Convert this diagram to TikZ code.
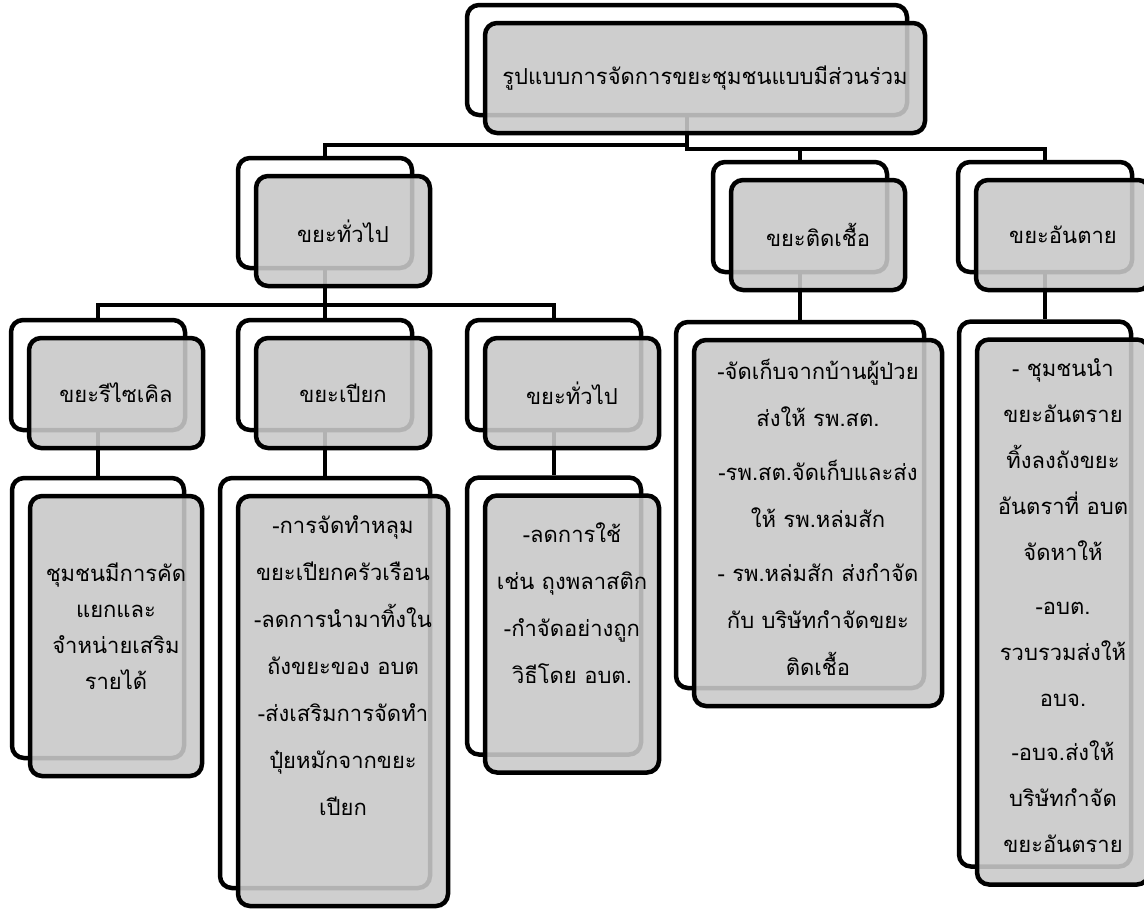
\documentclass[tikz,border=0pt]{standalone}
\usepackage{fontspec}
\newfontfamily\thaifont[Script=Thai]{Loma}
\usetikzlibrary{positioning}

\begin{document}
\begin{tikzpicture}[x=1pt,y=-1pt]
\tikzstyle{every node}+=[inner sep=0pt, font=\thaifont\fontsize{22}{26}\selectfont]
\tikzstyle{backbox}=[draw=black, line width=4.5pt, rounded corners=12pt, fill=white]
\tikzstyle{frontbox}=[draw=black, line width=4.5pt, rounded corners=12pt, fill=black!21, fill opacity=0.89, text opacity=1]
\tikzstyle{smallbox}=[minimum width=174pt, minimum height=110pt]
\tikzstyle{link}=[black, line width=4.5pt]
\tikzstyle{leaftext}=[anchor=north, align=center, font=\thaifont\fontsize{22}{47}\selectfont]
\useasboundingbox (0,0) rectangle (1144,910);
\node[backbox, minimum width=440pt, minimum height=110pt] (titleB) at (687,60) {};
\node[backbox, smallbox] (genB) at (325,213) {};
\node[backbox, smallbox] (infB) at (800,217) {};
\node[backbox, smallbox] (hazB) at (1045,217) {};
\node[backbox, smallbox] (recB) at (98,375) {};
\node[backbox, smallbox] (wetB) at (325,375) {};
\node[backbox, smallbox] (othB) at (554,375) {};
\node[backbox, minimum width=172pt, minimum height=280pt] (recLB) at (98,618) {};
\node[backbox, minimum width=210pt, minimum height=410pt] (wetLB) at (325,683) {};
\node[backbox, minimum width=174pt, minimum height=277pt] (othLB) at (554,616) {};
\node[backbox, minimum width=248pt, minimum height=366pt] (infLB) at (800,505) {};
\node[backbox, minimum width=172pt, minimum height=545pt] (hazLB) at (1045,594) {};
\coordinate (j0) at (687,145);
\coordinate (j1) at (687,149);
\coordinate (j2) at (325,305);
\draw[link] (titleB.south) -- (j0) -| (genB.north);
\draw[link] (titleB.south) -- (j1) -| (infB.north);
\draw[link] (j1) -| (hazB.north);
\draw[link] (genB.south) -- (j2) -| (recB.north);
\draw[link] (j2) -| (othB.north);
\draw[link] (genB.south) -- (wetB.north);
\draw[link] (recB.south) -- (recLB.north);
\draw[link] (wetB.south) -- (wetLB.north);
\draw[link] (othB.south) -- (othLB.north);
\draw[link] (infB.south) -- (infLB.north);
\draw[link] (hazB.south) -- (hazLB.north);
\node[frontbox, minimum width=440pt, minimum height=110pt] (title) at ([shift={(18,18)}]titleB.center) {รูปแบบการจัดการขยะชุมชนแบบมีส่วนร่วม};
\node[frontbox, smallbox] (gen) at ([shift={(18,18)}]genB.center) {ขยะทั่วไป};
\node[frontbox, smallbox] (inf) at ([shift={(18,18)}]infB.center) {ขยะติดเชื้อ};
\node[frontbox, smallbox] (haz) at ([shift={(18,18)}]hazB.center) {ขยะอันตาย};
\node[frontbox, smallbox] (rec) at ([shift={(18,18)}]recB.center) {ขยะรีไซเคิล};
\node[frontbox, smallbox] (wet) at ([shift={(18,18)}]wetB.center) {ขยะเปียก};
\node[frontbox, smallbox] (oth) at ([shift={(18,18)}]othB.center) {ขยะทั่วไป};
\node[frontbox, minimum width=172pt, minimum height=280pt] (recL) at ([shift={(18,18)}]recLB.center) {};
\node[frontbox, minimum width=210pt, minimum height=410pt] (wetL) at ([shift={(18,18)}]wetLB.center) {};
\node[frontbox, minimum width=174pt, minimum height=277pt] (othL) at ([shift={(18,18)}]othLB.center) {};
\node[frontbox, minimum width=248pt, minimum height=366pt] (infL) at ([shift={(18,18)}]infLB.center) {};
\node[frontbox, minimum width=172pt, minimum height=545pt] (hazL) at ([shift={(18,18)}]hazLB.center) {};
\node[leaftext, font=\thaifont\fontsize{22}{36}\selectfont, below=69pt of recL.north] (recT) {ชุมชนมีการคัด\\แยกและ\\จำหน่ายเสริม\\รายได้};
\node[leaftext, below=22pt of wetL.north] (wetT) {-การจัดทำหลุม\\ขยะเปียกครัวเรือน\\-ลดการนำมาทิ้งใน\\ถังขยะของ อบต\\-ส่งเสริมการจัดทำ\\ปุ๋ยหมักจากขยะ\\เปียก};
\node[leaftext, below=29pt of othL.north] (othT) {-ลดการใช้\\เช่น ถุงพลาสติก\\-กำจัดอย่างถูก\\วิธีโดย อบต.};
\node[leaftext, below=21pt of infL.north] (infT) {-จัดเก็บจากบ้านผู้ป่วย\\ส่งให้ รพ.สต.\\[7pt]-รพ.สต.จัดเก็บและส่ง\\ให้ รพ.หล่มสัก\\[7pt]- รพ.หล่มสัก ส่งกำจัด\\กับ บริษัทกำจัดขยะ\\ติดเชื้อ};
\node[leaftext, font=\thaifont\fontsize{22}{46}\selectfont, below=21pt of hazL.north] (hazT) {- ชุมชนนำ\\ขยะอันตราย\\ทิ้งลงถังขยะ\\อันตราที่ อบต\\จัดหาให้\\[8pt]-อบต.\\รวบรวมส่งให้\\อบจ.\\[8pt]-อบจ.ส่งให้\\บริษัทกำจัด\\ขยะอันตราย};
\end{tikzpicture}
\end{document}
